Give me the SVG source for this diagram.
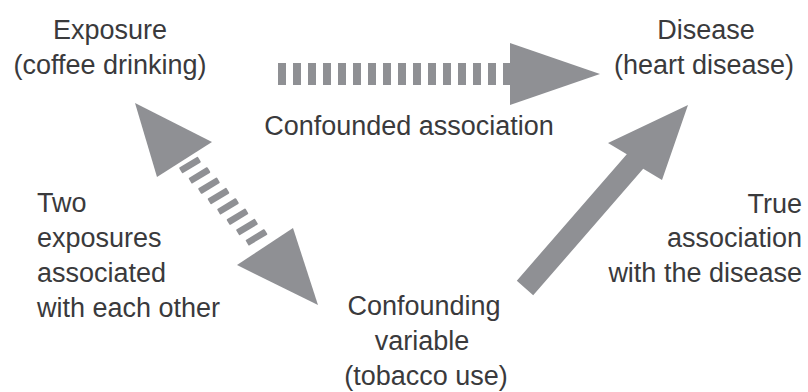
<svg xmlns="http://www.w3.org/2000/svg" width="808" height="392" viewBox="0 0 808 392">
<style>
text{font-family:"Liberation Sans",Arial,sans-serif;font-size:27px;fill:#3a3a3c}
.c{text-anchor:middle}
.r{text-anchor:end}
.a{fill:#8f9094}
</style>
<defs>
<rect id="d" x="-11" y="-3.25" width="22" height="6.5" rx="1" class="a" transform="rotate(-31)"/>
</defs>
<rect width="808" height="392" fill="#fff"/>
<g id="connectors">
<g id="confounded">
<line x1="278" y1="74" x2="511" y2="74" stroke="#8f9094" stroke-width="22" stroke-dasharray="8 7"/>
<polygon class="a" points="510,43 510,105 600,74"/>
</g>
<g id="exposures-assoc">
<polygon class="a" points="135,103 212,142 157,177"/>
<polygon class="a" points="318,305 237,265 293,228"/>
<use href="#d" x="190" y="165"/>
<use href="#d" x="199.5" y="175.3"/>
<use href="#d" x="209" y="185.7"/>
<use href="#d" x="218.5" y="196"/>
<use href="#d" x="228" y="206.3"/>
<use href="#d" x="237.5" y="216.7"/>
<use href="#d" x="247" y="227"/>
<use href="#d" x="256.5" y="237.3"/>
</g>
<g id="true-assoc">
<polygon class="a" points="516.8,280.7 626.8,154.2 608,143 688,105 662,180 643.2,168.8 533.2,295.3"/>
</g>
</g>
<g id="exposure"><text class="c" x="110" y="39">Exposure</text><text class="c" x="110" y="74">(coffee drinking)</text></g>
<g id="disease"><text class="c" x="706" y="39">Disease</text><text class="c" x="704" y="74">(heart disease)</text></g>
<g id="confounded-label"><text class="c" x="409" y="135">Confounded association</text></g>
<g id="two-exposures"><text x="37" y="212">Two</text><text x="37" y="247">exposures</text><text x="37" y="282">associated</text><text x="37" y="317">with each other</text></g>
<g id="true-association"><text class="r" x="802" y="213">True</text><text class="r" x="802" y="247">association</text><text class="r" x="802" y="282">with the disease</text></g>
<g id="confounding"><text class="c" x="424" y="315">Confounding</text><text class="c" x="422" y="350">variable</text><text class="c" x="426" y="385">(tobacco use)</text></g>
</svg>
